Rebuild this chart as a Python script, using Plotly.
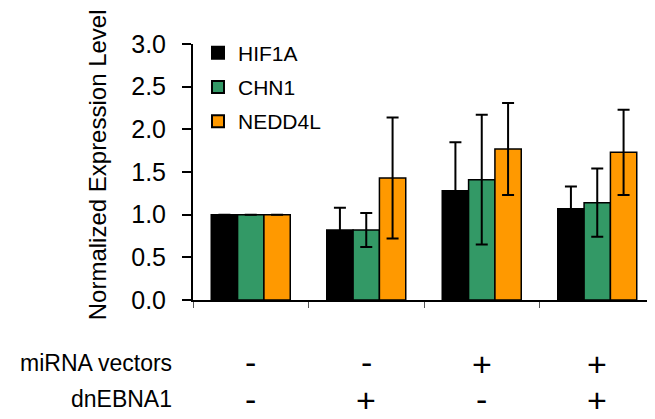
import plotly.graph_objects as go

categories = ["c1", "c2", "c3", "c4"]
mirna_vectors = ["-", "-", "+", "+"]
dnebna1 = ["-", "+", "-", "+"]

hif1a = [1.00, 0.82, 1.28, 1.07]
hif1a_err = [0.0, 0.26, 0.57, 0.26]
chn1 = [1.00, 0.82, 1.41, 1.14]
chn1_err = [0.0, 0.20, 0.76, 0.40]
nedd4l = [1.00, 1.43, 1.77, 1.73]
nedd4l_err = [0.0, 0.71, 0.54, 0.50]

series = [
    ("HIF1A", hif1a, hif1a_err, "#000000"),
    ("CHN1", chn1, chn1_err, "#339966"),
    ("NEDD4L", nedd4l, nedd4l_err, "#FF9900"),
]

FONT = "Liberation Sans, Arial, sans-serif"

fig = go.Figure()
for name, vals, errs, col in series:
    fig.add_trace(go.Bar(
        x=categories, y=vals, name=name, legendgroup=name,
        marker=dict(color=col, line=dict(color="#000000", width=1.5)),
        error_y=dict(type="data", array=errs, visible=True, color="#000000",
                     thickness=2, width=6),
    ))

# page body has an 8px margin; figure occupies window pixels 8..655 / 8..419
OFF = 8
W, H = 655 - OFF, 419 - OFF
ml, mr, mt, mb = 193 - OFF, 0, 43.5 - OFF, 119
plot_w = W - ml - mr
plot_h = H - mt - mb

def py(pix):
    # window pixel -> paper y
    return (419 - mb - pix) / plot_h

def px(pix):
    return (pix - 193) / plot_w

annotations = [
    dict(text="Normalized Expression Level", xref="paper", yref="paper",
         x=px(97), y=py(165), textangle=-90, showarrow=False,
         font=dict(size=24, color="#000000", family=FONT),
         xanchor="center", yanchor="middle"),
    dict(text="miRNA vectors", xref="paper", yref="paper", x=px(174), y=py(363),
         showarrow=False, xanchor="right", yanchor="middle",
         font=dict(size=23, color="#000000", family=FONT)),
    dict(text="dnEBNA1", xref="paper", yref="paper", x=px(174), y=py(399),
         showarrow=False, xanchor="right", yanchor="middle",
         font=dict(size=23, color="#000000", family=FONT)),
]
for cat, m, d in zip(categories, mirna_vectors, dnebna1):
    annotations.append(dict(text=m, x=cat, xref="x", yref="paper",
                            y=py(362 if m == "-" else 364),
                            showarrow=False, xanchor="center", yanchor="middle",
                            font=dict(size=34, color="#000000", family=FONT)))
    annotations.append(dict(text=d, x=cat, xref="x", yref="paper",
                            y=py(399 if d == "-" else 400),
                            showarrow=False, xanchor="center", yanchor="middle",
                            font=dict(size=34, color="#000000", family=FONT)))

fig.update_layout(
    width=W, height=H,
    margin=dict(l=ml, r=mr, t=mt, b=mb, pad=0),
    paper_bgcolor="#FFFFFF", plot_bgcolor="#FFFFFF",
    barmode="group", bargap=0.316, bargroupgap=0.0,
    font=dict(family=FONT, color="#000000"),
    showlegend=True,
    legend=dict(x=px(198), y=py(32), xanchor="left", yanchor="top",
                font=dict(size=21, color="#000000", family=FONT),
                bgcolor="rgba(0,0,0,0)", tracegroupgap=4,
                traceorder="grouped", itemsizing="constant"),
    annotations=annotations,
)
fig.update_xaxes(
    type="category", range=[-0.5, 3.5], showticklabels=False,
    showline=True, linecolor="#000000", linewidth=2,
    ticks="outside", tickson="boundaries", ticklen=6, tickcolor="#555555",
    tickwidth=1, showgrid=False, zeroline=False,
)
fig.update_yaxes(
    range=[0, 3], tickmode="array", tickvals=[0, 0.5, 1, 1.5, 2, 2.5, 3],
    ticktext=["0.0", "0.5", "1.0", "1.5", "2.0", "2.5", "3.0"],
    tickfont=dict(size=25, color="#000000", family=FONT),
    showline=True, linecolor="#000000", linewidth=2,
    ticks="outside", ticklen=9, tickwidth=2, tickcolor="#000000",
    ticklabelstandoff=11, showgrid=False, zeroline=False,
)

fig.write_html("out.html")
